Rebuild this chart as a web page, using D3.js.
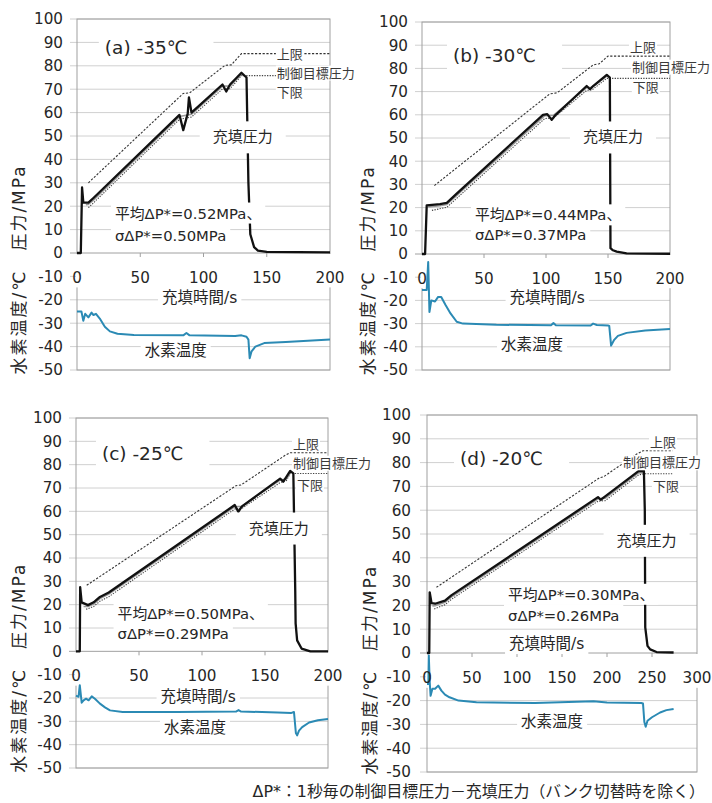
<!DOCTYPE html>
<html>
<head>
<meta charset="utf-8">
<script src="https://cdn.jsdelivr.net/npm/d3@7"></script>
<style>
  html, body { margin: 0; padding: 0; background: #fff; }
  svg { display: block; }
  text { font-family: "DejaVu Sans", "Noto Sans CJK JP", sans-serif; fill: #262626; }
</style>
</head>
<body>
<svg id="chart" width="712" height="803"></svg>
<script>
// ---- axis ticks ----
const yTickValues = [-50, -40, -30, -20, -10, 0, 10, 20, 30, 40, 50, 60, 70, 80, 90, 100];
const xTicks200 = [0, 50, 100, 150, 200];
const xTicks300 = [0, 50, 100, 150, 200, 250, 300];

// ---- panel titles and statistics ----
const panelTitles = ["(a) -35℃", "(b) -30℃", "(c) -25℃", "(d) -20℃"];
const meanTexts = ["平均ΔP*=0.52MPa、", "平均ΔP*=0.44MPa、", "平均ΔP*=0.50MPa、", "平均ΔP*=0.30MPa、"];
const sigmaTexts = ["σΔP*=0.50MPa", "σΔP*=0.37MPa", "σΔP*=0.29MPa", "σΔP*=0.26MPa"];
const seriesNames = { fill: "充填圧力", temp: "水素温度", upper: "上限", target: "制御目標圧力", lower: "下限" };
const xAxisTitle = "充填時間/s";
const yAxisTitle = "水素温度/℃　圧力/MPa";
const footnote = "ΔP*：1秒毎の制御目標圧力－充填圧力（バンク切替時を除く）";

// ---- (a) -35℃ : [time s, value] ----
const fillA = [[0,0],[3,0],[4,28],[5,21.5],[9,21.5],[13,23.5],[81,59],[84,52.5],[87.5,59.5],[88.5,66.5],[90.5,60],[115,72],[118,69],[121,72],[130,77],[134,75],[135.5,30],[137,8],[140,2.5],[143,1],[150,0.5],[200,0.3]];
const targetA = [[7,20.6],[9,20.8],[13,22.6],[81,58.3],[90.5,59.3],[115,71.3],[121,71.4],[130,76.3]];
const lowerA = [[9,19.4],[13,21.4],[81,57.1],[90.5,58.1],[115,70.1],[121,70.2],[130,75.8],[200,75.8]];
const upperA = [[9,30],[84,68.2],[89,68.4],[117,80.2],[122,80.4],[130,85.2],[200,85.2]];
const tempA = [[0,-25],[3.5,-25],[5,-29],[6.5,-26],[9,-27.5],[11.5,-25.5],[13,-26.5],[15,-26],[18,-28],[22,-31.5],[26,-33.5],[32,-34.5],[45,-35],[84,-35.2],[86.5,-34.2],[89,-35.2],[125,-35.5],[130,-35.2],[134,-35.8],[135.5,-37],[136.5,-45],[138,-42],[141,-40],[148,-38.5],[165,-38],[200,-37]];

// ---- (b) -30℃ ----
const fillB = [[0,0],[2.5,0],[3.8,21],[14.5,21.5],[20,22],[28,26],[97.6,60],[101,60.3],[104.6,57.8],[107,59.5],[132.8,72.4],[135.5,71],[138,72.4],[149,77.2],[151.5,76],[152,2.5],[154,1.6],[157,1],[165,0.3],[200,0.1]];
const targetB = [[5,20.3],[14.5,20.8],[20,21.3],[28,25.3],[99,59.6],[106,59.8],[133,71.8],[137,71.9],[149,76.7]];
const lowerB = [[8,18.8],[20,20.1],[28,24],[99,58.4],[106,58.6],[133,70.6],[137,70.7],[149,75.7],[200,75.7]];
const upperB = [[10,29.5],[103,69],[109,69.5],[138,81.5],[143,82],[150,85.3],[200,85.3]];
const tempB = [[0,-15.5],[3.8,-15.5],[5,-3.5],[6,-25],[7.5,-20],[10.5,-20.5],[13,-18.5],[15.5,-18.5],[19,-22],[23,-25.6],[28,-29.2],[33,-30],[60,-30.5],[104,-30.7],[106,-29.8],[108,-30.7],[136,-30.8],[138,-30],[141,-30.6],[150,-30.8],[151,-31],[152.5,-39.5],[155,-37],[158,-35.3],[165,-34],[180,-33],[200,-32.3]];

// ---- (c) -25℃ ----
const fillC = [[0,0],[3,0],[3.3,27.5],[4.5,21],[9.5,19.8],[14,21],[19,23.3],[26,25.2],[126,62.7],[128.8,59.8],[131.5,62],[162,74],[164.5,72.7],[167,74.8],[170,77.3],[172.5,76.3],[174,26],[174.3,12],[175.5,4.7],[179,1.2],[186,0],[200,0]];
const targetC = [[6,19.2],[9.5,19.2],[14,20.3],[19,22.6],[26,24.5],[126,62],[131.5,62.2],[162,73.4],[167,73.8],[170,76.6]];
const lowerC = [[8,18],[14,19.2],[19,21.5],[26,23.4],[126,61],[131.5,61.2],[162,72.3],[167,73.2],[170,76.2],[200,76.2]];
const upperC = [[8.5,28.3],[127,71],[131,71.3],[166,84],[170,85.1],[200,85.1]];
const tempC = [[0,-19],[2,-19.5],[3,-14.5],[4.5,-22],[6,-21],[8,-20.3],[10,-21],[12.5,-19.3],[15,-20.3],[19,-22.4],[23,-24],[27,-25.3],[37,-26],[80,-26],[127,-25.8],[129,-25.2],[131,-25.8],[160,-26.2],[171,-26.4],[173,-26],[174.5,-35],[175.5,-36],[177,-34],[179.5,-32.5],[185,-30.5],[192,-29.5],[200,-29]];

// ---- (d) -20℃ ----
const fillD = [[0,0],[2.5,0],[3,25.5],[5,21],[9,20.7],[20,22],[27,24.2],[190,65.5],[193,64.4],[198,65.8],[235,76.4],[241,76.5],[242,60],[242.5,10.8],[245,3],[248,1.5],[255,0.4],[274,0.2]];
const targetD = [[6,19.8],[9,19.9],[20,21.3],[27,23.5],[190,64.8],[198,65],[235,75.7],[241,75.8]];
const lowerD = [[8,18.5],[20,20.3],[27,22.5],[190,63.8],[198,64],[235,74.8],[241,75.3],[273,75.3]];
const upperD = [[10.5,27.6],[192,73.7],[196,74],[233,83.6],[240,85],[273,85]];
const tempD = [[0,-13],[1.5,-13],[2,-1],[3,-12],[4,-18],[6,-15],[9,-15],[12.5,-13.7],[16,-15.8],[20,-17.5],[25,-18.6],[35,-20],[55,-20.7],[120,-21],[185,-20.3],[200,-20.8],[238,-21],[240,-21.2],[241.5,-29],[243,-31],[245,-28.5],[250,-27],[259,-25],[266,-24],[274,-23.5]];

// ---- layout of the four panels (pixel frame + label anchors in data units) ----
const panels = [
  { x0: 77, x1: 330, xMax: 200, yTop: 19, yBot: 370, xTicks: xTicks200, yTitleX: 19, tickGap: 14,
    fill: fillA, target: targetA, lower: lowerA, upper: upperA, temp: tempA,
    at: { title: [22, 88], fillLbl: [131, 49.6], stats: [30, 17, 7.6], xTitle: [97, -19], tempLbl: [78, -41.5],
          upperLbl: [158, 85], targetLbl: [158, 77], lowerLbl: [158, 68.8] } },
  { x0: 422, x1: 670, xMax: 200, yTop: 22, yBot: 370, xTicks: xTicks200, yTitleX: 368, tickGap: 14,
    fill: fillB, target: targetB, lower: lowerB, upper: upperB, temp: tempB,
    at: { title: [25, 85.8], fillLbl: [154, 50.4], stats: [42.7, 16.8, 8.2], xTitle: [101, -18.5], tempLbl: [88.7, -38.8],
          upperLbl: [167.7, 89], targetLbl: [169.4, 80.6], lowerLbl: [170, 72] } },
  { x0: 76, x1: 328, xMax: 200, yTop: 418, yBot: 768, xTicks: xTicks200, yTitleX: 19, tickGap: 14,
    fill: fillC, target: targetC, lower: lowerC, upper: upperC, temp: tempC,
    at: { title: [20.6, 85], fillLbl: [161, 52.8], stats: [33, 16.3, 7.7], xTitle: [97, -19.3], tempLbl: [94.4, -32.6],
          upperLbl: [172.2, 88.8], targetLbl: [172.2, 80.7], lowerLbl: [175.4, 71.2] } },
  { x0: 427, x1: 697, xMax: 300, yTop: 415, yBot: 772, xTicks: xTicks300, yTitleX: 370, tickGap: 16,
    fill: fillD, target: targetD, lower: lowerD, upper: upperD, temp: tempD,
    at: { title: [36.7, 82], fillLbl: [244, 47.3], stats: [90, 24.6, 15.8], xTitle: [133, 4], tempLbl: [139, -28.8],
          upperLbl: [247.8, 88.4], targetLbl: [217.8, 80], lowerLbl: [251, 70] } }
];

const svg = d3.select("#chart");

// text with an optional white backing box (hides grid / lines behind it)
function label(g, str, px, py, o) {
  const t = g.append("text")
    .attr("x", px).attr("y", py).attr("dy", "0.36em")
    .attr("text-anchor", o.anchor || "start")
    .style("font-size", o.size + "px")
    .text(str);
  if (o.color) t.style("fill", o.color);
  if (o.box) {
    const b = t.node().getBBox();
    const [l, r, v] = o.box;
    g.insert("rect", () => t.node())
      .attr("x", b.x - l).attr("y", b.y - v)
      .attr("width", b.width + l + r).attr("height", b.height + 2 * v)
      .attr("fill", "#fff");
  }
  return t;
}

panels.forEach((p, i) => {
  const g = svg.append("g");
  const x = d3.scaleLinear().domain([0, p.xMax]).range([p.x0, p.x1]);
  const y = d3.scaleLinear().domain([-50, 100]).range([p.yBot, p.yTop]);

  // horizontal gridlines with short outside ticks
  g.selectAll("line.grid").data(yTickValues.filter(v => v !== 0)).join("line")
    .attr("x1", p.x0 - 7).attr("x2", p.x1)
    .attr("y1", d => y(d)).attr("y2", d => y(d))
    .attr("stroke", "#d0d0d0").attr("stroke-width", 1);

  // plot-area frame
  g.append("rect")
    .attr("x", p.x0).attr("y", p.yTop)
    .attr("width", p.x1 - p.x0).attr("height", p.yBot - p.yTop)
    .attr("fill", "none").attr("stroke", "#a0a0a0").attr("stroke-width", 1);

  // white strip carrying the time-axis tick labels
  g.append("rect")
    .attr("x", p.x0 - 1).attr("y", y(0) + 1)
    .attr("width", p.x1 - p.x0 + 3).attr("height", y(-10) - y(0) + 10)
    .attr("fill", "#fff");

  // zero line of the time axis with ticks
  g.append("line")
    .attr("x1", p.x0 - 7).attr("x2", p.x1)
    .attr("y1", y(0)).attr("y2", y(0))
    .attr("stroke", "#a0a0a0").attr("stroke-width", 1);
  g.selectAll("line.xtick").data(p.xTicks.filter(v => v > 0 && v < p.xMax)).join("line")
    .attr("x1", d => x(d)).attr("x2", d => x(d))
    .attr("y1", y(0)).attr("y2", y(0) + 4)
    .attr("stroke", "#a0a0a0");

  const line = d3.line().x(d => x(d[0])).y(d => y(d[1]));

  // limit lines, control target and filling pressure
  g.append("path").datum(p.upper).attr("d", line)
    .attr("fill", "none").attr("stroke", "#333").attr("stroke-width", 1.1)
    .attr("stroke-dasharray", "2.2,1.6");
  g.append("path").datum(p.lower).attr("d", line)
    .attr("fill", "none").attr("stroke", "#444").attr("stroke-width", 1.1)
    .attr("stroke-dasharray", "1.3,1.3");
  g.append("path").datum(p.target).attr("d", line)
    .attr("fill", "none").attr("stroke", "#999").attr("stroke-width", 1.6);
  g.append("path").datum(p.fill).attr("d", line)
    .attr("fill", "none").attr("stroke", "#111").attr("stroke-width", 2.3)
    .attr("stroke-linejoin", "round");

  // hydrogen temperature
  g.append("path").datum(p.temp).attr("d", line)
    .attr("fill", "none").attr("stroke", "#2b8ab4").attr("stroke-width", 2)
    .attr("stroke-linejoin", "round");

  // annotations
  const a = p.at;
  label(g, panelTitles[i], x(a.title[0]), y(a.title[1]), { size: 18.5, box: [6, 26, 5] });
  label(g, seriesNames.fill, x(a.fillLbl[0]), y(a.fillLbl[1]), { size: 15, anchor: "middle", box: [13, 13, 7] });
  label(g, meanTexts[i], x(a.stats[0]), y(a.stats[1]), { size: 14.8, box: [4, 4, 2] });
  label(g, sigmaTexts[i], x(a.stats[0]), y(a.stats[2]), { size: 14.8, box: [4, 4, 2] });
  label(g, xAxisTitle, x(a.xTitle[0]), y(a.xTitle[1]), { size: 15.5, anchor: "middle", box: [4, 4, 1] });
  label(g, seriesNames.temp, x(a.tempLbl[0]), y(a.tempLbl[1]), { size: 15.5, anchor: "middle", box: [4, 4, 1] });
  label(g, seriesNames.upper, x(a.upperLbl[0]), y(a.upperLbl[1]), { size: 13, color: "#3a3a3a", box: [1, 1, 0] });
  label(g, seriesNames.target, x(a.targetLbl[0]), y(a.targetLbl[1]), { size: 13, color: "#3a3a3a", box: [1, 1, 0] });
  label(g, seriesNames.lower, x(a.lowerLbl[0]), y(a.lowerLbl[1]), { size: 13, color: "#3a3a3a", box: [1, 1, 0] });

  // value axis labels
  g.selectAll("text.ytick").data(yTickValues).join("text")
    .attr("x", p.x0 - p.tickGap).attr("y", d => y(d)).attr("dy", "0.36em")
    .attr("text-anchor", "end").style("font-size", "15.2px")
    .text(d => d);

  // time axis labels
  g.selectAll("text.xtl").data(p.xTicks).join("text")
    .attr("x", d => x(d)).attr("y", y(-10) + 1).attr("dy", "0.36em")
    .attr("text-anchor", "middle").style("font-size", "15.2px")
    .text(d => d);

  // rotated axis title
  g.append("text")
    .attr("transform", `translate(${p.yTitleX},${y(-7)}) rotate(-90)`)
    .attr("dy", "0.36em").attr("text-anchor", "middle")
    .style("font-size", "17px").style("letter-spacing", "2px")
    .text(yAxisTitle);
});

// footnote defining ΔP*
svg.append("text")
  .attr("x", 705).attr("y", 791).attr("dy", "0.36em")
  .attr("text-anchor", "end")
  .style("font-size", "15.9px")
  .text(footnote);
</script>
</body>
</html>
